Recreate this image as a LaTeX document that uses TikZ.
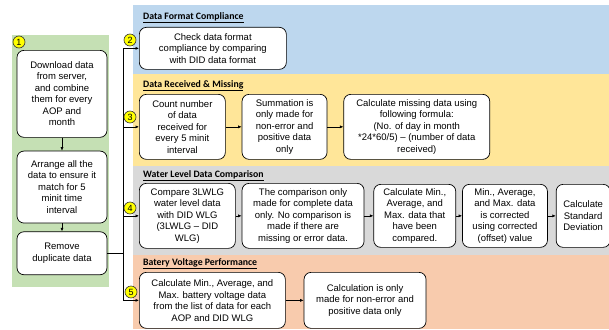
\documentclass[tikz,border=0pt]{standalone}
\usepackage{fontspec}
\setmainfont{Liberation Sans}
\newfontfamily\headfont{Carlito}
\usetikzlibrary{arrows.meta,positioning,backgrounds}
\definecolor{bandblue}{HTML}{BDD7EE}
\definecolor{bandyellow}{HTML}{FFE699}
\definecolor{bandgray}{HTML}{D9D9D9}
\definecolor{bandorange}{HTML}{F8CBAD}
\definecolor{panelgreen}{HTML}{C5E0B4}
\definecolor{tagyellow}{HTML}{FFFF00}

\begin{document}
\begin{tikzpicture}[x=1pt, y=-1pt,
  every node/.style={font=\fontsize{9.5}{11.5}\selectfont},
  procbox/.style={rectangle, rounded corners=7pt, draw=black, line width=0.7pt, fill=white, align=center, inner sep=1pt},
  numtag/.style={circle, draw=black!80, line width=0.6pt, fill=tagyellow, inner sep=0pt, minimum size=12pt, font=\fontsize{9}{9}\selectfont},
  bandtitle/.style={anchor=west, inner sep=0pt, font=\headfont\bfseries\fontsize{9.8}{10}\selectfont},
  arrow/.style={-{Latex[length=3.5pt,width=3pt]}, line width=0.6pt},
  link/.style={line width=0.6pt},
]
\useasboundingbox (0,0) rectangle (609,329);

% Background bands and left panel
\fill[bandblue] (133,5) rectangle (609,74);
\fill[bandyellow] (133,74) rectangle (609,166);
\fill[bandgray] (133,166) rectangle (609,255);
\fill[bandorange] (133,255) rectangle (609,329);
\fill[panelgreen] (12,35) rectangle (109,287);

% Preparation steps (left panel)
\node[procbox, anchor=north, minimum width=90pt, minimum height=87pt] (download) at (62,50) {Download data\\from server,\\and combine\\them for every\\AOP and\\month};
\node[procbox, minimum width=90pt, minimum height=72pt, below=13pt of download] (arrange) {Arrange all the\\data to ensure it\\match for 5\\minit time\\interval};
\node[procbox, minimum width=90pt, minimum height=43pt, below=8pt of arrange] (remove) {Remove\\duplicate data};

\draw[arrow] (download) -- (arrange);
\draw[arrow] (arrange) -- (remove);

% Data format compliance
\node[bandtitle] (fmttitle) at (143,18) {\underline{Data Format Compliance}};
\node[procbox, anchor=north west, minimum width=147pt, minimum height=42pt] (check) at (139,27) {Check data format\\compliance by comparing\\with DID data format};

% Data received and missing
\node[bandtitle] (rcvtitle) at (143,86) {\underline{Data Received \& Missing}};
\node[procbox, anchor=north west, minimum width=86pt, minimum height=65pt] (count) at (139,94) {Count number\\of data\\received for\\every 5 minit\\interval};
\node[procbox, minimum width=85pt, minimum height=65pt, right=16pt of count] (summ) {Summation is\\only made for\\non-error and\\positive data\\only};
\node[procbox, minimum width=146pt, minimum height=65pt, right=16pt of summ] (missing) {Calculate missing data using\\following formula:\\(No. of day in month\\*24*60/5) -- (number of data\\received)};

\draw[arrow] (count) -- (summ);
\draw[arrow] (summ) -- (missing);

% Water level data comparison
\node[bandtitle] (wlgtitle) at (143,176) {\underline{Water Level Data Comparison}};
\node[procbox, anchor=north west, minimum width=96pt, minimum height=65pt] (compare) at (139,183) {Compare 3LWLG\\water level data\\with DID WLG\\(3LWLG -- DID\\WLG)};
\node[procbox, minimum width=122pt, minimum height=65pt, right=6pt of compare] (complete) {The comparison only\\made for complete data\\only. No comparison is\\made if there are\\missing or error data.};
\node[procbox, minimum width=82pt, minimum height=63pt, right=9pt of complete] (minmax) {Calculate Min.,\\Average, and\\Max. data that\\have been\\compared.};
\node[procbox, minimum width=85pt, minimum height=63pt, right=6pt of minmax] (offset) {Min., Average,\\and Max. data\\is corrected\\using corrected\\(offset) value};
\node[procbox, minimum width=54pt, minimum height=63pt, right=8pt of offset] (stddev) {Calculate\\Standard\\Deviation};

\draw[arrow] (compare) -- (complete);
\draw[arrow] (complete) -- (minmax);
\draw[arrow] (minmax) -- (offset);
\draw[arrow] (offset) -- (stddev);

% Battery voltage performance
\node[bandtitle] (battitle) at (143,264) {\underline{Batery Voltage Performance}};
\node[procbox, anchor=north west, minimum width=146pt, minimum height=56pt] (battery) at (139,272) {Calculate Min., Average, and\\Max. battery voltage data\\from the list of data for each\\AOP and DID WLG};
\node[procbox, minimum width=122pt, minimum height=56pt, right=18pt of battery] (batonly) {Calculation is only\\made for non-error and\\positive data only};

\draw[arrow] (battery) -- (batonly);

% Bus from the left panel to each band
\draw[link] (remove.east) -- ++(16,0) coordinate (bus);
\draw[link] (bus |- check.west) -- (bus |- battery.west);
\foreach \first in {check,count,compare,battery}
  \draw[arrow] (bus |- \first.west) -- (\first.west);

% Step numbers
\node[numtag] (n1) at (19,42) {1};
\node[numtag] (n2) at (130,40) {2};
\node[numtag] (n3) at (130,117) {3};
\node[numtag] (n4) at (130,208) {4};
\node[numtag] (n5) at (131,292) {5};

\end{tikzpicture}
\end{document}
